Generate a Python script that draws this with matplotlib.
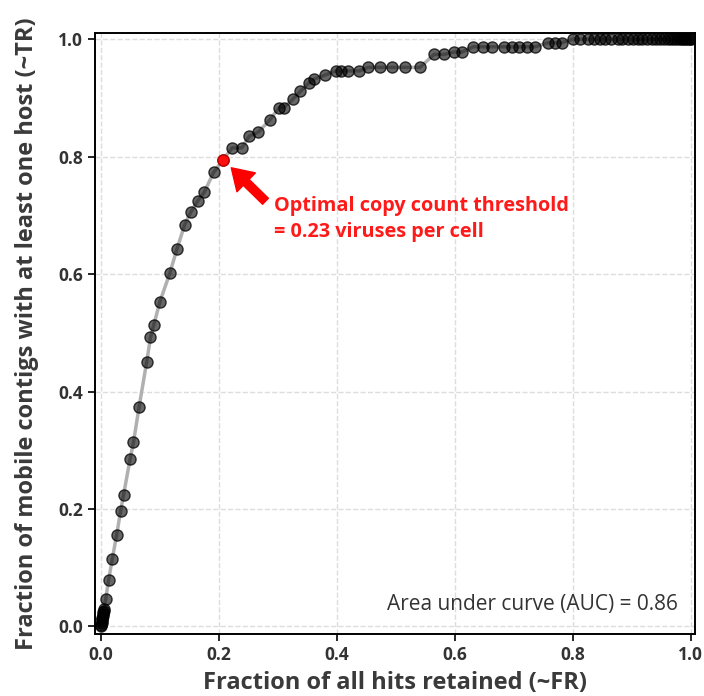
import matplotlib
matplotlib.use("Agg")
import matplotlib.pyplot as plt

# curve points (fraction of hits retained, fraction of contigs with host)
fr = [0.0, 0.0005, 0.001, 0.0015, 0.002, 0.0025, 0.003, 0.0035, 0.004, 0.0045, 0.005,
      0.008, 0.013, 0.0191, 0.0265, 0.0333, 0.0383, 0.0495, 0.0552, 0.0647,
      0.0777, 0.084, 0.0895, 0.100, 0.1166, 0.129, 0.142, 0.152, 0.164, 0.175, 0.191,
      0.2066,
      0.2225, 0.2387, 0.2517, 0.267, 0.286, 0.302, 0.310, 0.3255, 0.338, 0.353, 0.3615,
      0.3796, 0.398, 0.4066, 0.419, 0.438, 0.4527, 0.474, 0.4927, 0.516, 0.541,
      0.5647, 0.5816, 0.5985, 0.612, 0.631, 0.6475, 0.6627, 0.684, 0.6965, 0.709,
      0.722, 0.736, 0.7584, 0.770, 0.782,
      0.800, 0.812, 0.826, 0.836, 0.846, 0.855, 0.864, 0.876, 0.884, 0.893, 0.902,
      0.910, 0.918, 0.926, 0.934, 0.941, 0.948, 0.955, 0.961, 0.967, 0.972, 0.977,
      0.981, 0.985, 0.989, 0.992, 0.995, 0.998, 1.0]
tr = [0.0, 0.003, 0.006, 0.009, 0.012, 0.015, 0.018, 0.021, 0.024, 0.027, 0.030,
      0.046, 0.079, 0.114, 0.155, 0.196, 0.224, 0.285, 0.3135, 0.374,
      0.451, 0.492, 0.513, 0.553, 0.601, 0.643, 0.684, 0.705, 0.7245, 0.739, 0.773,
      0.794,
      0.815, 0.815, 0.835, 0.842, 0.862, 0.8835, 0.8835, 0.898, 0.911, 0.926, 0.932,
      0.9387, 0.946, 0.946, 0.946, 0.946, 0.952, 0.952, 0.952, 0.952, 0.952,
      0.974, 0.974, 0.978, 0.978, 0.987, 0.987, 0.987, 0.987, 0.987, 0.987,
      0.987, 0.987, 0.994, 0.994, 0.994,
      1.0, 1.0, 1.0, 1.0, 1.0, 1.0, 1.0, 1.0, 1.0, 1.0, 1.0,
      1.0, 1.0, 1.0, 1.0, 1.0, 1.0, 1.0, 1.0, 1.0, 1.0, 1.0,
      1.0, 1.0, 1.0, 1.0, 1.0, 1.0, 1.0]
opt_idx = 31
ticks = [0.0, 0.2, 0.4, 0.6, 0.8, 1.0]
tick_labels = ["0.0", "0.2", "0.4", "0.6", "0.8", "1.0"]
auc = 0.86
threshold = 0.23

plt.rcParams['font.family'] = ['Open Sans', 'DejaVu Sans']

fig = plt.figure(figsize=(7.04, 6.96), dpi=100, facecolor="white")
ax = fig.add_axes([0.135, 0.089, 0.852, 0.864])

ax.plot(fr, tr, color="#b0b0b0", lw=2.5, zorder=2)
ax.plot(fr, tr, linestyle="none", marker="o", markersize=8,
        markerfacecolor=(0, 0, 0, 0.6), markeredgecolor=(0, 0, 0, 0.75),
        markeredgewidth=1.0, zorder=3)
ax.plot(fr[opt_idx], tr[opt_idx], linestyle="none", marker="o", markersize=8,
        markerfacecolor="#ff1010", markeredgecolor="#c00000", markeredgewidth=1.0, zorder=4)

# arrow + label
ax.annotate("", xy=(0.221, 0.781), xytext=(0.279, 0.724),
            arrowprops=dict(facecolor="#ff0000", edgecolor="#ff0000",
                            width=6, headwidth=19, headlength=15))
ax.text(0.294, 0.733, "Optimal copy count threshold\n= %.2f viruses per cell" % threshold,
        color="#ff1a1a", fontsize=14.3, fontweight="bold", va="top", ha="left",
        linespacing=1.4)

ax.text(0.978, 0.038, "Area under curve (AUC) = %.2f" % auc, color="#333333",
        fontsize=15, ha="right", va="center")

ax.set_xlim(-0.01, 1.007)
ax.set_ylim(-0.013, 1.011)
ax.set_xticks(ticks)
ax.set_xticklabels(tick_labels)
ax.set_yticks(ticks)
ax.set_yticklabels(tick_labels)
ax.grid(True, color="#dddddd", linestyle="--", linewidth=1)
ax.set_axisbelow(True)

for s in ax.spines.values():
    s.set_linewidth(1.4)
    s.set_color("black")
ax.tick_params(axis="both", colors="#333333", labelsize=12.5, length=5, width=1.2)
for lab in ax.get_xticklabels() + ax.get_yticklabels():
    lab.set_fontweight("bold")
ax.tick_params(axis="both", color="black")

ax.set_xlabel("Fraction of all hits retained (~FR)", fontsize=17, fontweight="bold",
              color="#3a3a3a", labelpad=5)
ax.set_ylabel("Fraction of mobile contigs with at least one host (~TR)", fontsize=17,
              fontweight="bold", color="#3a3a3a", labelpad=14)

fig.savefig("out.png", dpi=100, facecolor="white")
